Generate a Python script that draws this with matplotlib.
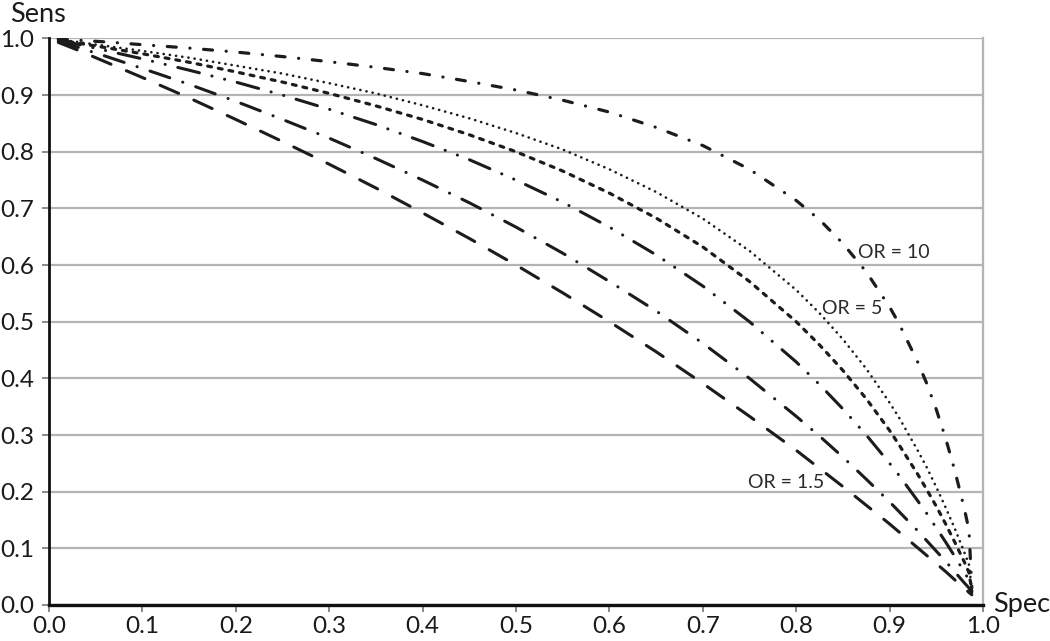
import matplotlib
matplotlib.use("Agg")
import matplotlib.pyplot as plt

plt.rcParams['font.family'] = ['Lato', 'DejaVu Sans']
plt.rcParams['lines.scale_dashes'] = False

# specificity points (x) and sensitivity (y), one list per odds ratio
spec = [0.01, 0.03, 0.06, 0.1, 0.15, 0.2, 0.25, 0.3, 0.35, 0.4, 0.45, 0.5, 0.55,
        0.6, 0.65, 0.7, 0.75, 0.8, 0.825, 0.85, 0.875, 0.9, 0.91, 0.93, 0.94,
        0.95, 0.96, 0.97, 0.98, 0.985, 0.988]

sens_or15 = [0.993, 0.980, 0.959, 0.931, 0.895, 0.857, 0.818, 0.778, 0.736, 0.692,
             0.647, 0.600, 0.551, 0.500, 0.447, 0.391, 0.333, 0.273, 0.241, 0.209,
             0.176, 0.143, 0.129, 0.101, 0.087, 0.073, 0.059, 0.044, 0.030, 0.022, 0.018]
sens_or2 = [0.995, 0.985, 0.969, 0.947, 0.919, 0.889, 0.857, 0.824, 0.788, 0.750,
            0.710, 0.667, 0.621, 0.571, 0.519, 0.462, 0.400, 0.333, 0.298, 0.261,
            0.222, 0.182, 0.165, 0.131, 0.113, 0.095, 0.077, 0.058, 0.039, 0.030, 0.020]
sens_or3 = [0.997, 0.990, 0.979, 0.964, 0.944, 0.923, 0.900, 0.875, 0.848, 0.818,
            0.786, 0.750, 0.711, 0.667, 0.618, 0.563, 0.500, 0.429, 0.389, 0.346,
            0.300, 0.250, 0.229, 0.184, 0.161, 0.136, 0.111, 0.085, 0.058, 0.044, 0.022]
sens_or4 = [0.998, 0.992, 0.984, 0.973, 0.958, 0.941, 0.923, 0.903, 0.881, 0.857,
            0.830, 0.800, 0.766, 0.727, 0.683, 0.632, 0.571, 0.500, 0.459, 0.414,
            0.364, 0.308, 0.283, 0.231, 0.203, 0.174, 0.143, 0.110, 0.076, 0.057, 0.025]
sens_or5 = [0.998, 0.994, 0.987, 0.978, 0.966, 0.952, 0.938, 0.921, 0.903, 0.882,
            0.859, 0.833, 0.804, 0.769, 0.729, 0.682, 0.625, 0.556, 0.515, 0.469,
            0.417, 0.357, 0.331, 0.273, 0.242, 0.208, 0.172, 0.134, 0.093, 0.071, 0.027]
sens_or10 = [0.999, 0.997, 0.994, 0.989, 0.983, 0.976, 0.968, 0.959, 0.949, 0.938,
             0.924, 0.909, 0.891, 0.870, 0.843, 0.811, 0.769, 0.714, 0.680, 0.638,
             0.588, 0.526, 0.497, 0.429, 0.390, 0.345, 0.294, 0.236, 0.170, 0.132, 0.030]

ticks = [0.0, 0.1, 0.2, 0.3, 0.4, 0.5, 0.6, 0.7, 0.8, 0.9, 1.0]
tick_labels = ['0.0', '0.1', '0.2', '0.3', '0.4', '0.5', '0.6', '0.7', '0.8', '0.9', '1.0']

labels = [('OR = 10', 0.866, 0.623), ('OR = 5', 0.828, 0.524), ('OR = 1.5', 0.748, 0.217)]

fig = plt.figure(figsize=(10.5, 6.41), dpi=100)
ax = fig.add_axes([0.0467, 0.0562, 0.8895, 0.8838])

c = '#1c1c1c'
# dash patterns in points (round caps add the line width to each dash)
styles = [
    (sens_or15, 2.2, (0, (14.5, 12))),
    (sens_or2, 2.2, (0, (15, 9.8, 0.1, 9.8))),
    (sens_or3, 2.2, (0, (16, 9.3, 0.1, 9.3, 0.1, 9.3))),
    (sens_or4, 2.3, (0, (2.8, 5.0))),
    (sens_or5, 1.9, (0, (0.1, 4.4))),
    (sens_or10, 2.3, (0, (6.5, 9.8, 0.1, 9.8))),
]
for ys, lw, ls in styles:
    ax.plot(spec, ys, color=c, lw=lw, linestyle=ls,
            dash_capstyle='round', solid_capstyle='round', zorder=3)

for txt, x, y in labels:
    ax.text(x, y, txt, fontsize=14, color='#2a2a2a', ha='left', va='center', zorder=4)

ax.set_xlim(0, 1)
ax.set_ylim(0, 1)
ax.set_xticks(ticks)
ax.set_xticklabels(tick_labels)
ax.set_yticks(ticks)
ax.set_yticklabels(tick_labels)
ax.tick_params(axis='both', labelsize=17.5, colors='#1a1a1a', length=5, width=1.2,
               direction='out')
ax.tick_params(axis='x', pad=3, color='#777777')
ax.tick_params(axis='y', pad=6, color='#777777')

ax.yaxis.grid(True, color='#b4b4b4', lw=1.6)
ax.xaxis.grid(False)
ax.set_axisbelow(True)

ax.spines['left'].set_color('#111111')
ax.spines['left'].set_linewidth(2.0)
ax.spines['bottom'].set_color('#111111')
ax.spines['bottom'].set_linewidth(2.4)
ax.spines['right'].set_color('#b4b4b4')
ax.spines['right'].set_linewidth(1.6)
ax.spines['top'].set_visible(False)

ax.text(-0.042, 1.043, 'Sens', fontsize=19.5, color='#1a1a1a', ha='left', va='center',
        transform=ax.transData, clip_on=False)
ax.text(1.011, 0.0, 'Spec', fontsize=19.5, color='#1a1a1a', ha='left', va='center',
        transform=ax.transData, clip_on=False)

fig.savefig('out.png', dpi=100, facecolor='white')
